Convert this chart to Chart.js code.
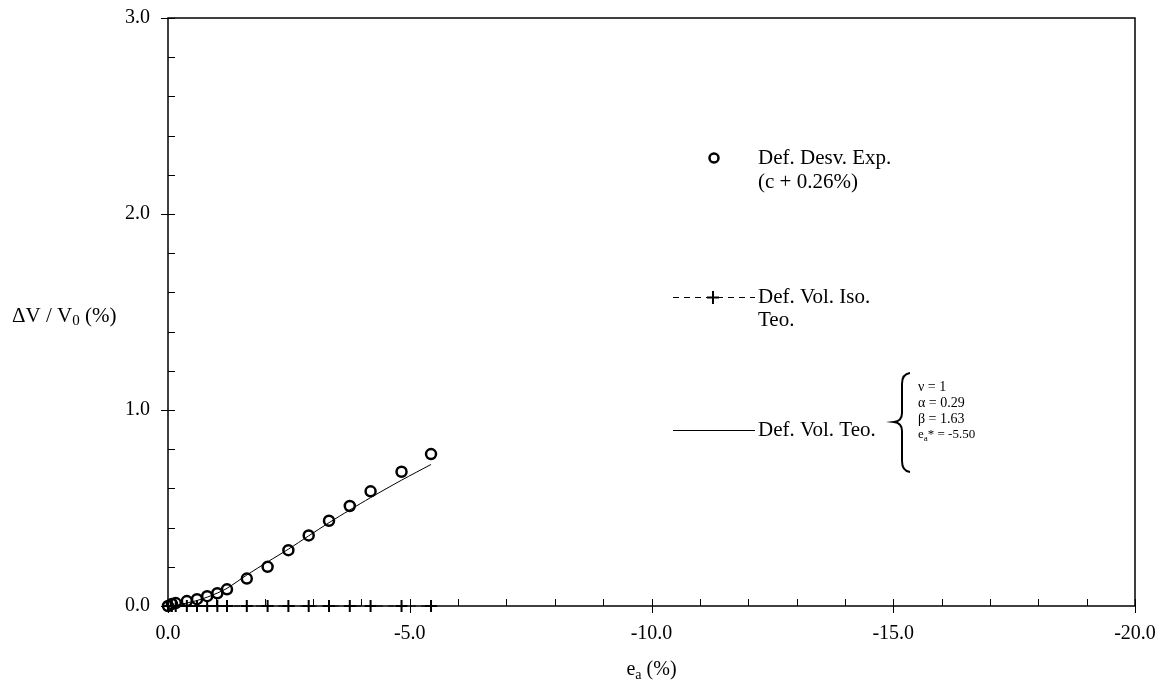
<!DOCTYPE html>
<html>
<head>
<meta charset="utf-8">
<script src="https://cdn.jsdelivr.net/npm/chart.js@4.4.1/dist/chart.umd.min.js"></script>
<style>
  html, body { margin: 0; padding: 0; background: #fff; }
</style>
</head>
<body>
<canvas id="chart" width="1170" height="692"></canvas>
<script>
// ---- data ----
const strain   = [0, -0.08, -0.16, -0.39, -0.60, -0.81, -1.02, -1.22, -1.63, -2.06, -2.49, -2.91, -3.33, -3.76, -4.19, -4.83, -5.44];
const volExp   = [0, 0.010, 0.015, 0.025, 0.035, 0.050, 0.065, 0.085, 0.140, 0.200, 0.285, 0.360, 0.435, 0.510, 0.585, 0.685, 0.775];
const volIso   = [0, 0, 0, 0, 0, 0, 0, 0, 0, 0, 0, 0, 0, 0, 0, 0, 0];
const volTeo   = [0, 0.002, 0.004, 0.015, 0.028, 0.045, 0.066, 0.090, 0.158, 0.225, 0.290, 0.358, 0.425, 0.490, 0.553, 0.642, 0.722];

const xTicks = [0, -5, -10, -15, -20];
const yTicks = [0, 1, 2, 3];
const params = ['\u03bd = 1', '\u03b1 = 0.29', '\u03b2 = 1.63'];

const SERIF = '"Liberation Serif", "Times New Roman", serif';
const BLACK = '#000';

const pts = ys => strain.map((s, i) => ({ x: s, y: ys[i] }));

// minor tick positions (axis furniture, not data)
const xMinor = [];
for (let v = 0; v >= -20; v -= 1) xMinor.push(v);
const yMinor = [];
for (let i = 0; i <= 15; i++) yMinor.push(i * 0.2);

// draw text with optional subscripts, left aligned, middle baseline
function richText(ctx, parts, x, y, size) {
  let cx = x;
  parts.forEach(p => {
    if (p.sub) {
      ctx.font = `${Math.round(size * 0.7)}px ${SERIF}`;
      ctx.fillText(p.t, cx, y + size * 0.25);
    } else {
      ctx.font = `${size}px ${SERIF}`;
      ctx.fillText(p.t, cx, y);
    }
    cx += ctx.measureText(p.t).width;
  });
  return cx - x;
}
function richWidth(ctx, parts, size) {
  let w = 0;
  parts.forEach(p => {
    ctx.font = p.sub ? `${Math.round(size * 0.7)}px ${SERIF}` : `${size}px ${SERIF}`;
    w += ctx.measureText(p.t).width;
  });
  return w;
}

// ---- frame + tick marks ----
const framePlugin = {
  id: 'frame',
  beforeDatasetsDraw(chart) {
    const { ctx, chartArea: a, scales: { x, y } } = chart;
    ctx.save();
    ctx.strokeStyle = BLACK;
    ctx.lineWidth = 1.5;
    ctx.strokeRect(a.left, a.top, a.right - a.left, a.bottom - a.top);

    ctx.lineWidth = 1;
    ctx.beginPath();
    xMinor.forEach(v => {
      const px = Math.round(x.getPixelForValue(v)) + 0.5;
      ctx.moveTo(px, a.bottom); ctx.lineTo(px, a.bottom - 7);
    });
    xTicks.forEach(v => {
      const px = Math.round(x.getPixelForValue(v)) + 0.5;
      ctx.moveTo(px, a.bottom + 7); ctx.lineTo(px, a.bottom - 7);
    });
    yMinor.forEach(v => {
      const py = Math.round(y.getPixelForValue(v)) + 0.5;
      ctx.moveTo(a.left, py); ctx.lineTo(a.left + 7, py);
    });
    yTicks.forEach(v => {
      const py = Math.round(y.getPixelForValue(v)) + 0.5;
      ctx.moveTo(a.left - 7, py); ctx.lineTo(a.left + 7, py);
    });
    ctx.stroke();
    ctx.restore();
  },
};

// ---- axis titles, legend and parameter box ----
const annotPlugin = {
  id: 'annot',
  afterDraw(chart) {
    const { ctx, chartArea: a } = chart;
    ctx.save();
    ctx.fillStyle = BLACK;
    ctx.strokeStyle = BLACK;
    ctx.textBaseline = 'middle';
    ctx.textAlign = 'left';

    // y title
    richText(ctx, [{ t: '\u0394V / V' }, { t: '0', sub: true }, { t: ' (%)' }], 12, 316, 21);
    // x title
    const xt = [{ t: 'e' }, { t: 'a', sub: true }, { t: ' (%)' }];
    const xw = richWidth(ctx, xt, 20);
    richText(ctx, xt, (a.left + a.right) / 2 - xw / 2, 670, 20);

    // legend: experimental
    ctx.lineWidth = 2.5;
    ctx.beginPath();
    ctx.arc(714, 158, 4.5, 0, Math.PI * 2);
    ctx.stroke();
    ctx.font = `21px ${SERIF}`;
    ctx.fillText('Def. Desv. Exp.', 758, 158);
    ctx.fillText('(c + 0.26%)', 758, 182);

    // legend: iso
    ctx.lineWidth = 1;
    ctx.setLineDash([6, 5]);
    ctx.beginPath();
    ctx.moveTo(673, 297.5); ctx.lineTo(755, 297.5);
    ctx.stroke();
    ctx.setLineDash([]);
    ctx.lineWidth = 2;
    ctx.beginPath();
    ctx.moveTo(707, 297.5); ctx.lineTo(719, 297.5);
    ctx.moveTo(713, 291); ctx.lineTo(713, 304);
    ctx.stroke();
    ctx.fillText('Def. Vol. Iso.', 758, 297);
    ctx.fillText('Teo.', 758, 320);

    // legend: theoretical
    ctx.lineWidth = 1;
    ctx.beginPath();
    ctx.moveTo(673, 430.5); ctx.lineTo(755, 430.5);
    ctx.stroke();
    ctx.fillText('Def. Vol. Teo.', 758, 430);

    // brace
    ctx.lineWidth = 2;
    ctx.beginPath();
    ctx.moveTo(910, 373);
    ctx.quadraticCurveTo(902, 374, 902, 384);
    ctx.lineTo(902, 413);
    ctx.quadraticCurveTo(902, 421, 894, 422);
    ctx.quadraticCurveTo(902, 423, 902, 431);
    ctx.lineTo(902, 461);
    ctx.quadraticCurveTo(902, 471, 910, 472);
    ctx.stroke();

    ctx.font = `14px ${SERIF}`;
    params.forEach((p, i) => ctx.fillText(p, 918, 387 + i * 16));
    richText(ctx, [{ t: 'e' }, { t: 'a', sub: true }, { t: '* = -5.50' }], 918, 435, 13);
    ctx.restore();
  },
};

new Chart(document.getElementById('chart'), {
  type: 'scatter',
  data: {
    datasets: [
      {
        label: 'Def. Vol. Teo.',
        data: pts(volTeo),
        showLine: true,
        borderColor: BLACK,
        borderWidth: 1,
        pointRadius: 0,
        tension: 0.3,
        clip: false,
        order: 3,
      },
      {
        label: 'Def. Vol. Iso. Teo.',
        data: pts(volIso),
        showLine: true,
        borderColor: BLACK,
        borderWidth: 1,
        borderDash: [6, 5],
        pointStyle: 'cross',
        pointRadius: 6,
        pointBorderWidth: 2,
        pointBorderColor: BLACK,
        clip: false,
        order: 2,
      },
      {
        label: 'Def. Desv. Exp. (c + 0.26%)',
        data: pts(volExp),
        showLine: false,
        pointStyle: 'circle',
        pointRadius: 5,
        pointBorderWidth: 2.5,
        pointBorderColor: BLACK,
        pointBackgroundColor: 'rgba(0,0,0,0)',
        clip: false,
        order: 1,
      },
    ],
  },
  options: {
    responsive: false,
    animation: false,
    layout: { padding: { left: 0, top: 18, right: 35, bottom: 0 } },
    plugins: {
      legend: { display: false },
      tooltip: { enabled: false },
    },
    scales: {
      x: {
        type: 'linear',
        min: -20,
        max: 0,
        reverse: true,
        grid: { display: false, drawTicks: false },
        border: { display: false },
        afterBuildTicks: s => { s.ticks = xTicks.map(v => ({ value: v })); },
        afterFit: s => { s.height = 86; s.paddingLeft = 0; s.paddingRight = 0; },
        ticks: {
          padding: 16,
          color: BLACK,
          font: { family: SERIF, size: 20 },
          maxRotation: 0,
          callback: v => v.toFixed(1),
        },
      },
      y: {
        type: 'linear',
        min: 0,
        max: 3,
        grid: { display: false, drawTicks: false },
        border: { display: false },
        afterBuildTicks: s => { s.ticks = yTicks.map(v => ({ value: v })); },
        afterFit: s => { s.width = 168; s.paddingTop = 0; s.paddingBottom = 0; },
        ticks: {
          padding: 18,
          color: BLACK,
          font: { family: SERIF, size: 20 },
          callback: v => v.toFixed(1),
        },
      },
    },
  },
  plugins: [framePlugin, annotPlugin],
});
</script>
</body>
</html>
